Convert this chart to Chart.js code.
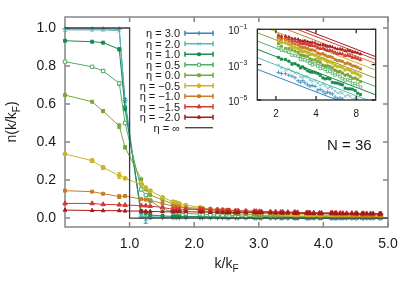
<!DOCTYPE html>
<html>
<head>
<meta charset="utf-8">
<title>n(k/kF), N = 36</title>
<script src="https://cdn.jsdelivr.net/npm/chart.js@4.4.1/dist/chart.umd.min.js"></script>
<style>
    html, body { margin: 0; padding: 0; background: #ffffff; }
    #wrap { position: relative; width: 415px; height: 291px; }
    #wrap canvas { position: absolute; left: 0; top: 0; }
</style>
</head>
<body>
<div id="wrap">
    <canvas id="mainChart" width="415" height="291"></canvas>
    <canvas id="insetChart" width="415" height="291"></canvas>
</div>
<script>
// momentum grid (k/kF) of the N = 36 system
const kValues = [
    0, 0.42, 0.59, 0.84, 0.93, 1.18, 1.25, 1.32, 1.51, 1.67, 1.72, 1.77, 1.87,
    2.09, 2.13, 2.25, 2.36, 2.44, 2.51, 2.54, 2.64, 2.68, 2.80, 2.93, 2.96, 3.01, 3.04,
    3.18, 3.26, 3.34, 3.37, 3.45, 3.55, 3.57, 3.60, 3.74, 3.76, 3.79, 3.85, 3.94, 3.97,
    4.12, 4.14, 4.18, 4.20, 4.26, 4.30, 4.36, 4.44, 4.50, 4.52, 4.60, 4.62, 4.67, 4.73,
    4.77, 4.87, 4.89
]

const etaLabels = ['η = 3.0', 'η = 2.0', 'η = 1.0', 'η = 0.5', 'η = 0.0', 'η = −0.5', 'η = −1.0', 'η = −1.5', 'η = −2.0']
const stepLabel = 'η = ∞'
const stepK = [0, 1, 1, 5]
const stepN = [1, 1, 0, 0]

const xTicks = [1, 2, 3, 4, 5]
const yTicks = [0, 0.2, 0.4, 0.6, 0.8, 1.0]

const nEta3 = [0.995, 0.995, 0.995, 0.994, 0.62, 0.010, 0.003, 0.004, 0.003, 0.003, 0.002, 0.002, 0.002,
    0.002, 0.002, 0.002, 0.001, 0.002, 0.001, 0.001, 0.001, 0.001, 0.001, 0.001, 0.001, 0.001, 0.001, 0.001,
    0.001, 0.001, 0.001, 0.000, 0.001, 0.001, 0.000, 0.001, 0.000, 0.001, 0.000, 0.001, 0.000, 0.000, 0.001,
    0.000, 0.000, 0.001, 0.000, 0.000, 0.000, 0.000, 0.001, 0.000, 0.000, 0.000, 0.000, 0.000, 0.000, 0.000]
const nEta2 = [0.990, 0.990, 0.990, 0.986, 0.60, 0.012, 0.008, 0.007, 0.005, 0.004, 0.004, 0.003, 0.003,
    0.003, 0.003, 0.003, 0.003, 0.003, 0.002, 0.003, 0.002, 0.002, 0.002, 0.002, 0.002, 0.002, 0.002, 0.001,
    0.002, 0.001, 0.001, 0.001, 0.001, 0.001, 0.001, 0.001, 0.001, 0.001, 0.001, 0.001, 0.001, 0.001, 0.001,
    0.001, 0.001, 0.001, 0.001, 0.001, 0.000, 0.001, 0.001, 0.000, 0.001, 0.000, 0.000, 0.001, 0.000, 0.000]
const nEta1 = [0.933, 0.928, 0.923, 0.888, 0.575, 0.035, 0.028, 0.016, 0.011, 0.009, 0.009, 0.008, 0.008,
    0.008, 0.008, 0.007, 0.007, 0.006, 0.006, 0.005, 0.005, 0.005, 0.004, 0.004, 0.004, 0.004, 0.003, 0.003,
    0.003, 0.003, 0.003, 0.003, 0.002, 0.002, 0.002, 0.002, 0.002, 0.002, 0.002, 0.002, 0.002, 0.002, 0.002,
    0.001, 0.001, 0.001, 0.001, 0.001, 0.001, 0.001, 0.001, 0.001, 0.001, 0.001, 0.001, 0.001, 0.001, 0.001]
const nEta05 = [0.823, 0.796, 0.774, 0.709, 0.500, 0.151, 0.121, 0.091, 0.048, 0.032, 0.029, 0.027, 0.024,
    0.021, 0.019, 0.017, 0.016, 0.015, 0.014, 0.013, 0.012, 0.011, 0.010, 0.010, 0.009, 0.009, 0.008, 0.008,
    0.007, 0.007, 0.007, 0.006, 0.006, 0.006, 0.006, 0.005, 0.005, 0.005, 0.005, 0.005, 0.004, 0.004, 0.004,
    0.004, 0.004, 0.004, 0.004, 0.003, 0.003, 0.003, 0.003, 0.003, 0.003, 0.003, 0.003, 0.003, 0.003, 0.003]
const nEta0 = [0.647, 0.612, 0.563, 0.484, 0.372, 0.204, 0.151, 0.121, 0.095, 0.074, 0.068, 0.062, 0.053,
    0.041, 0.037, 0.033, 0.031, 0.029, 0.027, 0.025, 0.023, 0.021, 0.020, 0.019, 0.017, 0.016, 0.015, 0.014,
    0.013, 0.013, 0.012, 0.011, 0.011, 0.010, 0.010, 0.009, 0.009, 0.009, 0.008, 0.008, 0.008, 0.007, 0.007,
    0.007, 0.007, 0.007, 0.006, 0.006, 0.006, 0.006, 0.006, 0.006, 0.005, 0.005, 0.005, 0.005, 0.005, 0.005]
const nEtaM05 = [0.337, 0.302, 0.266, 0.224, 0.209, 0.177, 0.160, 0.144, 0.109, 0.086, 0.082, 0.076, 0.068,
    0.056, 0.052, 0.048, 0.045, 0.043, 0.040, 0.039, 0.036, 0.034, 0.032, 0.030, 0.029, 0.027, 0.026, 0.024,
    0.023, 0.022, 0.021, 0.020, 0.019, 0.018, 0.017, 0.017, 0.016, 0.015, 0.015, 0.014, 0.014, 0.013, 0.013,
    0.013, 0.012, 0.012, 0.012, 0.011, 0.011, 0.011, 0.011, 0.010, 0.010, 0.010, 0.010, 0.010, 0.009, 0.009]
const nEtaM1 = [0.144, 0.139, 0.128, 0.113, 0.116, 0.100, 0.097, 0.093, 0.077, 0.063, 0.061, 0.059, 0.055,
    0.051, 0.049, 0.047, 0.045, 0.044, 0.042, 0.041, 0.039, 0.038, 0.037, 0.035, 0.034, 0.033, 0.032, 0.031,
    0.030, 0.029, 0.028, 0.028, 0.027, 0.026, 0.025, 0.025, 0.024, 0.023, 0.023, 0.022, 0.022, 0.021, 0.021,
    0.020, 0.020, 0.019, 0.019, 0.019, 0.018, 0.018, 0.018, 0.017, 0.017, 0.017, 0.017, 0.016, 0.016, 0.016]
const nEtaM15 = [0.077, 0.077, 0.072, 0.070, 0.068, 0.066, 0.065, 0.063, 0.056, 0.046, 0.047, 0.046, 0.046,
    0.046, 0.045, 0.043, 0.042, 0.041, 0.040, 0.040, 0.038, 0.038, 0.037, 0.036, 0.036, 0.035, 0.034, 0.034,
    0.033, 0.032, 0.033, 0.031, 0.031, 0.030, 0.030, 0.029, 0.029, 0.029, 0.028, 0.028, 0.027, 0.028, 0.027,
    0.026, 0.027, 0.026, 0.026, 0.025, 0.026, 0.025, 0.025, 0.024, 0.025, 0.024, 0.024, 0.024, 0.023, 0.024]
const nEtaM2 = [0.042, 0.040, 0.039, 0.039, 0.037, 0.037, 0.036, 0.035, 0.033, 0.033, 0.033, 0.033, 0.033,
    0.032, 0.032, 0.030, 0.031, 0.030, 0.029, 0.030, 0.028, 0.029, 0.028, 0.029, 0.027, 0.028, 0.028, 0.027,
    0.026, 0.027, 0.026, 0.027, 0.026, 0.025, 0.026, 0.025, 0.026, 0.025, 0.024, 0.025, 0.024, 0.025, 0.024,
    0.024, 0.023, 0.024, 0.023, 0.024, 0.023, 0.023, 0.022, 0.023, 0.022, 0.023, 0.022, 0.022, 0.021, 0.022]

// statistical error bars for the low-k points
const errEta3 = [0.002, 0.002, 0.002, 0.003, 0.010, 0.012, 0.030, 0.008, 0.005, 0.004, 0.004, 0.004, 0.004]
const errEta2 = [0.002, 0.002, 0.002, 0.003, 0.010, 0.012, 0.020, 0.008, 0.005, 0.004, 0.004, 0.004, 0.004]
const errEta1 = [0.003, 0.004, 0.004, 0.008, 0.010, 0.008, 0.007, 0.006, 0.005, 0.004, 0.004, 0.004, 0.004]
const errEta05 = [0.004, 0.006, 0.008, 0.010, 0.008, 0.008, 0.007, 0.006, 0.005, 0.005, 0.005, 0.004, 0.004]
const errEta0 = [0.004, 0.006, 0.008, 0.012, 0.008, 0.006, 0.006, 0.005, 0.005, 0.005, 0.004, 0.004, 0.004]
const errEtaM05 = [0.006, 0.010, 0.010, 0.016, 0.006, 0.006, 0.005, 0.005, 0.005, 0.005, 0.004, 0.004, 0.004]
const errEtaM1 = [0.005, 0.004, 0.006, 0.010, 0.004, 0.004, 0.004, 0.004, 0.004, 0.004, 0.004, 0.004, 0.004]
const errEtaM15 = [0.003, 0.003, 0.003, 0.003, 0.003, 0.003, 0.003, 0.003, 0.003, 0.003, 0.003, 0.003, 0.003]
const errEtaM2 = [0.002, 0.002, 0.002, 0.002, 0.002, 0.002, 0.002, 0.002, 0.002, 0.002, 0.002, 0.002, 0.002]

// inset: large-k tails on log-log axes (two interleaved k sets)
const tailK = [2.09, 2.36, 2.64, 2.93, 3.18, 3.45, 3.74, 4.12, 4.5, 4.87, 5.3, 5.8, 6.3, 6.9, 7.5, 8.2]
const tailK2 = [2.2, 2.5, 2.78, 3.05, 3.3, 3.6, 3.93, 4.3, 4.68, 5.08, 5.55, 6.05, 6.6, 7.2, 7.85, 8.6]

const tailEta3 = [3.63e-4, 3.05e-4, 2.23e-4, 1.23e-4, 1.24e-4, 7.31e-5, 6.61e-5, 3.61e-5, 3.18e-5, 2.81e-5, 2.17e-5, 1.17e-5, 1.13e-5]
const tailEta3b = [3.17e-4, 2.51e-4, 1.82e-4, 1.01e-4, 9.48e-5, 6.14e-5, 5.81e-5, 3.99e-5, 2.43e-5, 2.50e-5, 1.46e-5, 1.29e-5]
const tailEta2 = [9.59e-4, 4.86e-4, 4.28e-4, 3.25e-4, 1.96e-4, 1.99e-4, 1.18e-4, 9.20e-5, 8.18e-5, 4.63e-5, 4.46e-5, 2.51e-5, 2.44e-5, 1.93e-5, 1.15e-5, 1.13e-5]
const tailEta2b = [6.61e-4, 5.50e-4, 3.49e-4, 2.09e-4, 2.13e-4, 1.34e-4, 1.28e-4, 6.98e-5, 6.49e-5, 5.28e-5, 3.11e-5, 2.68e-5, 1.63e-5, 1.62e-5, 1.17e-5]
const tailEta1 = [2.56e-3, 1.97e-3, 1.06e-3, 9.16e-4, 7.40e-4, 4.52e-4, 3.76e-4, 3.14e-4, 1.78e-4, 1.69e-4, 9.93e-5, 9.02e-5, 7.23e-5, 4.29e-5, 4.10e-5, 2.45e-5]
const tailEta1b = [2.04e-3, 1.57e-3, 1.13e-3, 6.50e-4, 5.96e-4, 3.93e-4, 3.60e-4, 2.49e-4, 1.56e-4, 1.54e-4, 9.29e-5, 8.02e-5, 4.68e-5, 4.20e-5, 3.40e-5, 2.04e-5]
const tailEta05 = [9.06e-3, 6.25e-3, 3.47e-3, 3.01e-3, 1.87e-3, 1.61e-3, 9.73e-4, 8.41e-4, 6.55e-4, 4.10e-4, 3.30e-4, 2.77e-4, 1.62e-4, 1.42e-4, 8.53e-5, 7.55e-5]
const tailEta05b = [6.61e-3, 5.11e-3, 3.24e-3, 1.99e-3, 1.89e-3, 1.21e-3, 1.08e-3, 6.17e-4, 5.40e-4, 4.27e-4, 2.59e-4, 2.13e-4, 1.33e-4, 1.23e-4, 8.81e-5, 5.45e-5]
const tailEta0 = [1.53e-2, 8.41e-3, 6.75e-3, 4.97e-3, 3.21e-3, 2.91e-3, 1.88e-3, 1.52e-3, 9.40e-4, 8.47e-4, 6.64e-4, 4.16e-4, 3.37e-4, 2.76e-4, 1.69e-4, 1.47e-4]
const tailEta0b = [1.10e-2, 8.13e-3, 5.81e-3, 3.53e-3, 3.10e-3, 2.10e-3, 1.84e-3, 1.29e-3, 8.41e-4, 7.82e-4, 4.94e-4, 4.12e-4, 2.54e-4, 2.19e-4, 1.74e-4, 1.09e-4]
const tailEtaM05 = [2.29e-2, 1.74e-2, 9.84e-3, 8.30e-3, 5.33e-3, 4.81e-3, 3.89e-3, 2.43e-3, 2.21e-3, 1.46e-3, 1.25e-3, 7.80e-4, 7.01e-4, 5.47e-4, 3.57e-4, 2.87e-4]
const tailEtaM05b = [1.82e-2, 1.41e-2, 9.38e-3, 6.08e-3, 5.70e-3, 3.84e-3, 3.40e-3, 2.08e-3, 1.82e-3, 1.46e-3, 9.38e-4, 7.78e-4, 5.12e-4, 4.69e-4, 3.46e-4, 2.26e-4]
const tailEtaM1 = [3.21e-2, 2.50e-2, 1.55e-2, 1.32e-2, 9.06e-3, 8.17e-3, 6.76e-3, 4.54e-3, 4.11e-3, 2.90e-3, 2.51e-3, 1.68e-3, 1.52e-3, 1.22e-3, 8.49e-4, 6.98e-4]
const tailEtaM1b = [2.64e-2, 2.09e-2, 1.47e-2, 1.02e-2, 9.46e-3, 6.76e-3, 6.03e-3, 3.96e-3, 3.49e-3, 2.87e-3, 1.98e-3, 1.66e-3, 1.17e-3, 1.06e-3, 8.18e-4, 5.70e-4]
const tailEtaM15 = [3.89e-2, 3.27e-2, 2.23e-2, 2.00e-2, 1.49e-2, 1.40e-2, 1.22e-2, 8.91e-3, 8.43e-3, 6.38e-3, 5.79e-3, 4.22e-3, 3.96e-3, 3.37e-3, 2.54e-3, 2.20e-3]
const tailEtaM15b = [3.33e-2, 2.84e-2, 2.17e-2, 1.63e-2, 1.57e-2, 1.20e-2, 1.12e-2, 8.04e-3, 7.40e-3, 6.41e-3, 4.78e-3, 4.24e-3, 3.20e-3, 3.04e-3, 2.49e-3, 1.87e-3]
const tailEtaM2 = [4.66e-2, 4.06e-2, 2.95e-2, 2.73e-2, 2.13e-2, 2.04e-2, 1.83e-2, 1.41e-2, 1.36e-2, 1.08e-2, 1.00e-2, 7.67e-3, 7.33e-3, 6.44e-3, 5.08e-3, 4.55e-3]
const tailEtaM2b = [4.09e-2, 3.62e-2, 2.90e-2, 2.29e-2, 2.23e-2, 1.79e-2, 1.71e-2, 1.29e-2, 1.22e-2, 1.08e-2, 8.49e-3, 7.73e-3, 6.14e-3, 5.93e-3, 5.04e-3, 3.98e-3]

// asymptotic fits, end points at the inset's edges
const fitK = [1.45, 11.2]
const fitEta3 = [5.43e-4, 1.45e-6]
const fitEta2 = [2.48e-3, 6.6e-6]
const fitEta1 = [7.33e-3, 1.95e-5]
const fitEta05 = [2.16e-2, 5.75e-5]
const fitEta0 = [6.38e-2, 1.70e-4]
const fitEtaM05 = [0.186, 4.95e-4]
const fitEtaM1 = [0.431, 1.15e-3]
const fitEtaM15 = [0.733, 1.95e-3]
const fitEtaM2 = [1.06, 2.82e-3]

const insetXTicks = [2, 4, 8]
const insetYTicks = [1e-5, 1e-3, 1e-1]
const insetYExponents = ['−5', '−3', '−1']

const mainValues = [nEta3, nEta2, nEta1, nEta05, nEta0, nEtaM05, nEtaM1, nEtaM15, nEtaM2]
const mainErrors = [errEta3, errEta2, errEta1, errEta05, errEta0, errEtaM05, errEtaM1, errEtaM15, errEtaM2]
const tailValues = [tailEta3, tailEta2, tailEta1, tailEta05, tailEta0, tailEtaM05, tailEtaM1, tailEtaM15, tailEtaM2]
const tailValuesB = [tailEta3b, tailEta2b, tailEta1b, tailEta05b, tailEta0b, tailEtaM05b, tailEtaM1b, tailEtaM15b, tailEtaM2b]
const fitValues = [fitEta3, fitEta2, fitEta1, fitEta05, fitEta0, fitEtaM05, fitEtaM1, fitEtaM15, fitEtaM2]

const seriesStyle = [
    { color: '#2f86b8', point: 'cross', radius: 2.6 },
    { color: '#5fb7b3', point: 'crossRot', radius: 2.6 },
    { color: '#1a8a4d', point: 'rect', radius: 2.1 },
    { color: '#4fae67', point: 'rect', radius: 2.4, open: true },
    { color: '#79a63a', point: 'rect', radius: 2.1 },
    { color: '#c9b622', point: 'circle', radius: 2.0 },
    { color: '#c87b27', point: 'rect', radius: 2.1 },
    { color: '#d03838', point: 'triangle', radius: 2.6 },
    { color: '#a31a1a', point: 'triangle', radius: 2.1 }
]

const FONT = "'Liberation Sans', Arial, Helvetica, sans-serif"
Chart.defaults.font.family = FONT
Chart.defaults.color = '#1a1a1a'

function points(xs, ys) {
    return ys.map((y, i) => ({ x: xs[i], y }))
}

function drawRich(ctx, parts, x, y, align) {
    let width = 0
    parts.forEach(p => {
        ctx.font = `${p.size}px ${FONT}`
        width += ctx.measureText(p.text).width
    })
    let cx = align === 'center' ? x - width / 2 : align === 'right' ? x - width : x
    ctx.textAlign = 'left'
    ctx.textBaseline = 'alphabetic'
    parts.forEach(p => {
        ctx.font = `${p.size}px ${FONT}`
        ctx.fillText(p.text, cx, y + (p.dy || 0))
        cx += ctx.measureText(p.text).width
    })
}

function drawMarker(ctx, style, x, y, scale) {
    const helpers = Chart.helpers
    if (!helpers || !helpers.drawPoint) return
    ctx.fillStyle = style.open ? '#ffffff' : style.color
    ctx.strokeStyle = style.color
    ctx.lineWidth = 1
    helpers.drawPoint(ctx, { pointStyle: style.point, radius: style.radius * scale, rotation: 0, borderWidth: 1 }, x, y)
}

function pinAxis(size) {
    return scale => {
        if (scale.isHorizontal()) scale.height = size
        else scale.width = size
        scale.paddingLeft = 0
        scale.paddingRight = 0
        scale.paddingTop = 0
        scale.paddingBottom = 0
    }
}

const errorBars = {
    id: 'errorBars',
    beforeDatasetsDraw(chart) {
        const { ctx } = chart
        const yScale = chart.scales.y
        chart.data.datasets.forEach((ds, di) => {
            if (!ds.errors) return
            const meta = chart.getDatasetMeta(di)
            ctx.save()
            ctx.strokeStyle = ds.borderColor
            ctx.lineWidth = 1
            ctx.beginPath()
            ds.errors.forEach((e, i) => {
                const pt = meta.data[i]
                if (!pt || !e) return
                const v = ds.data[i].y
                const top = yScale.getPixelForValue(v + e)
                const bot = yScale.getPixelForValue(v - e)
                if (bot - top < 3) return
                ctx.moveTo(pt.x, top)
                ctx.lineTo(pt.x, bot)
                ctx.moveTo(pt.x - 2, top)
                ctx.lineTo(pt.x + 2, top)
                ctx.moveTo(pt.x - 2, bot)
                ctx.lineTo(pt.x + 2, bot)
            })
            ctx.stroke()
            ctx.restore()
        })
    }
}

const mainDecor = {
    id: 'mainDecor',
    beforeDatasetsDraw(chart) {
        const { ctx, chartArea: a, scales: { x, y } } = chart
        ctx.save()
        ctx.strokeStyle = '#858585'
        ctx.lineWidth = 1.5
        ctx.strokeRect(a.left, a.top, a.right - a.left, a.bottom - a.top)
        ctx.beginPath()
        xTicks.forEach(v => {
            const px = x.getPixelForValue(v)
            ctx.moveTo(px, a.bottom)
            ctx.lineTo(px, a.bottom - 5)
            ctx.moveTo(px, a.top)
            ctx.lineTo(px, a.top + 5)
        })
        yTicks.forEach(v => {
            const py = y.getPixelForValue(v)
            ctx.moveTo(a.left, py)
            ctx.lineTo(a.left + 5, py)
            ctx.moveTo(a.right, py)
            ctx.lineTo(a.right - 5, py)
        })
        ctx.stroke()
        ctx.restore()
    },
    afterDraw(chart) {
        const { ctx } = chart
        ctx.save()
        ctx.fillStyle = '#1a1a1a'

        // axis titles
        drawRich(ctx, [{ text: 'k/k', size: 14 }, { text: 'F', size: 10, dy: 4 }], 226.5, 268, 'center')
        ctx.save()
        ctx.translate(16, 122)
        ctx.rotate(-Math.PI / 2)
        drawRich(ctx, [{ text: 'n(k/k', size: 14 }, { text: 'F', size: 10, dy: 4 }, { text: ')', size: 14 }], 0, 0, 'center')
        ctx.restore()

        drawRich(ctx, [{ text: 'N = 36', size: 15 }], 327, 150, 'left')

        // gnuplot style key
        chart.data.datasets.forEach((ds, i) => {
            const rowY = 33.3 + 10.49 * i
            ctx.fillStyle = '#1a1a1a'
            drawRich(ctx, [{ text: ds.label, size: 11 }], 180, rowY + 4, 'right')
            ctx.strokeStyle = ds.borderColor
            ctx.lineWidth = ds.errors ? 1.5 : 1.3
            ctx.beginPath()
            ctx.moveTo(185, rowY)
            ctx.lineTo(213, rowY)
            if (ds.errors) {
                ctx.moveTo(185, rowY - 2.5)
                ctx.lineTo(185, rowY + 2.5)
                ctx.moveTo(213, rowY - 2.5)
                ctx.lineTo(213, rowY + 2.5)
            }
            ctx.stroke()
            if (ds.errors) drawMarker(ctx, seriesStyle[i], 199, rowY, 0.9)
        })
        ctx.restore()
    }
}

const mainDatasets = mainValues.map((vals, i) => ({
    label: etaLabels[i],
    data: points(kValues, vals),
    errors: mainErrors[i],
    borderColor: seriesStyle[i].color,
    backgroundColor: seriesStyle[i].open ? '#ffffff' : seriesStyle[i].color,
    pointStyle: seriesStyle[i].point,
    pointRadius: seriesStyle[i].radius,
    pointBorderWidth: 1,
    borderWidth: 1,
    showLine: true,
    clip: false,
    order: 10 - i
}))
mainDatasets.push({
    label: stepLabel,
    data: points(stepK, stepN),
    borderColor: '#3c3c3c',
    borderWidth: 1.3,
    pointRadius: 0,
    showLine: true,
    clip: false,
    order: 0
})

new Chart(document.getElementById('mainChart'), {
    type: 'scatter',
    data: { datasets: mainDatasets },
    options: {
        responsive: false,
        animation: false,
        events: [],
        layout: { padding: { left: 0, top: 17, right: 27, bottom: 0 } },
        plugins: { legend: { display: false }, tooltip: { enabled: false } },
        scales: {
            x: {
                type: 'linear',
                min: 0,
                max: 5,
                afterBuildTicks: scale => { scale.ticks = xTicks.map(v => ({ value: v })) },
                afterFit: pinAxis(64),
                grid: { display: false, drawTicks: false },
                border: { display: false },
                ticks: { padding: 9, font: { size: 14 }, color: '#1a1a1a', maxRotation: 0, autoSkip: false, callback: v => Number(v).toFixed(1) }
            },
            y: {
                type: 'linear',
                min: -0.047,
                max: 1.058,
                afterBuildTicks: scale => { scale.ticks = yTicks.map(v => ({ value: v })) },
                afterFit: pinAxis(65),
                grid: { display: false, drawTicks: false },
                border: { display: false },
                ticks: { padding: 9, font: { size: 14 }, color: '#1a1a1a', autoSkip: false, callback: v => Number(v).toFixed(1) }
            }
        }
    },
    plugins: [errorBars, mainDecor]
})

const insetDecor = {
    id: 'insetDecor',
    afterDatasetsDraw(chart) {
        const { ctx, chartArea: a, scales: { x, y } } = chart
        ctx.save()
        ctx.strokeStyle = '#2a2a2a'
        ctx.lineWidth = 1.3
        ctx.strokeRect(a.left, a.top, a.right - a.left, a.bottom - a.top)
        ctx.beginPath()
        insetXTicks.forEach(v => {
            const px = x.getPixelForValue(v)
            ctx.moveTo(px, a.bottom)
            ctx.lineTo(px, a.bottom - 4)
            ctx.moveTo(px, a.top)
            ctx.lineTo(px, a.top + 4)
        })
        insetYTicks.forEach(v => {
            const py = y.getPixelForValue(v)
            ctx.moveTo(a.left, py)
            ctx.lineTo(a.left + 4, py)
            ctx.moveTo(a.right, py)
            ctx.lineTo(a.right - 4, py)
        })
        ctx.stroke()
        ctx.fillStyle = '#1a1a1a'
        insetYTicks.forEach((v, i) => {
            const py = y.getPixelForValue(v)
            drawRich(ctx, [{ text: '10', size: 10 }, { text: insetYExponents[i], size: 7, dy: -5 }], a.left - 10, py + 5, 'right')
        })
        ctx.restore()
    }
}

const insetDatasets = []
tailValues.forEach((vals, i) => {
    const s = seriesStyle[i]
    insetDatasets.push({
        data: points(tailK, vals).concat(points(tailK2, tailValuesB[i])),
        borderColor: s.color,
        backgroundColor: s.open ? '#ffffff' : s.color,
        pointStyle: s.point,
        pointRadius: s.radius * 0.75,
        pointBorderWidth: 0.8,
        showLine: false,
        clip: 0,
        order: 1
    })
    insetDatasets.push({
        data: points(fitK, fitValues[i]),
        borderColor: s.color,
        borderWidth: 1,
        pointRadius: 0,
        showLine: true,
        clip: 0,
        order: 2
    })
})

new Chart(document.getElementById('insetChart'), {
    type: 'scatter',
    data: { datasets: insetDatasets },
    options: {
        responsive: false,
        animation: false,
        events: [],
        layout: { padding: { left: 217.3, top: 29.3, right: 39.3, bottom: 171 } },
        plugins: { legend: { display: false }, tooltip: { enabled: false } },
        scales: {
            x: {
                type: 'logarithmic',
                min: 1.45,
                max: 11.2,
                afterBuildTicks: scale => { scale.ticks = insetXTicks.map(v => ({ value: v })) },
                afterFit: pinAxis(20),
                grid: { display: false, drawTicks: false },
                border: { display: false },
                ticks: { padding: 8, font: { size: 10 }, color: '#1a1a1a', maxRotation: 0, autoSkip: false, callback: v => String(v) }
            },
            y: {
                type: 'logarithmic',
                min: 1e-5,
                max: 1e-1,
                afterBuildTicks: scale => { scale.ticks = insetYTicks.map(v => ({ value: v })) },
                afterFit: pinAxis(40),
                grid: { display: false, drawTicks: false },
                border: { display: false },
                ticks: { display: false }
            }
        }
    },
    plugins: [insetDecor]
})
</script>
</body>
</html>
